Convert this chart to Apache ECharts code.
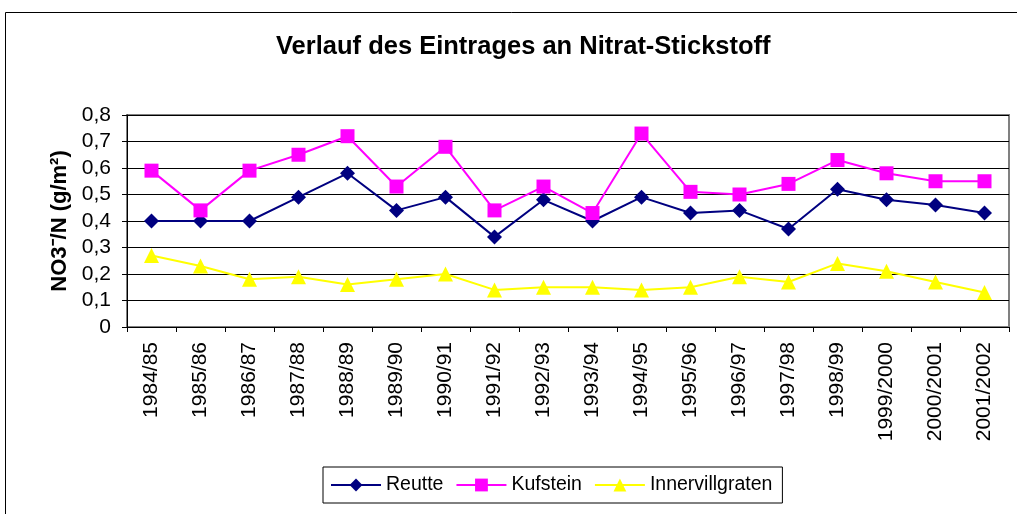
<!DOCTYPE html>
<html>
<head>
<meta charset="utf-8">
<script src="https://cdn.jsdelivr.net/npm/echarts@6/dist/echarts.min.js"></script>
<style>
  html, body { margin: 0; padding: 0; background: #fff; }
  #chart { width: 1017px; height: 514px; }
</style>
</head>
<body>
<div id="chart"></div>
<script>
const years = ['1984/85', '1985/86', '1986/87', '1987/88', '1988/89', '1989/90', '1990/91', '1991/92', '1992/93',
  '1993/94', '1994/95', '1995/96', '1996/97', '1997/98', '1998/99', '1999/2000', '2000/2001', '2001/2002'];
const reutte = [0.40, 0.40, 0.40, 0.49, 0.58, 0.44, 0.49, 0.34, 0.48, 0.40, 0.49, 0.43, 0.44, 0.37, 0.52, 0.48, 0.46, 0.43];
const kufstein = [0.59, 0.44, 0.59, 0.65, 0.72, 0.53, 0.68, 0.44, 0.53, 0.43, 0.73, 0.51, 0.50, 0.54, 0.63, 0.58, 0.55, 0.55];
const innervillgraten = [0.27, 0.23, 0.18, 0.19, 0.16, 0.18, 0.20, 0.14, 0.15, 0.15, 0.14, 0.15, 0.19, 0.17, 0.24, 0.21, 0.17, 0.13];

const chart = echarts.init(document.getElementById('chart'));
const font = 'Liberation Sans, Arial, sans-serif';

function lineSeries(name, data, color, symbol, size) {
  return {
    name: name,
    type: 'line',
    data: data,
    symbol: symbol,
    symbolSize: size,
    lineStyle: { color: color, width: 2 },
    itemStyle: { color: color },
    animation: false
  };
}

chart.setOption({
  backgroundColor: '#fff',
  textStyle: { fontFamily: font },
  title: {
    text: 'Verlauf des Eintrages an Nitrat-Stickstoff',
    left: 271,
    top: 29,
    textStyle: { fontSize: 25.5, fontWeight: 'bold', color: '#000', fontFamily: font }
  },
  graphic: [{
    type: 'rect',
    shape: { x: 5.5, y: 12.5, width: 1030, height: 520 },
    style: { fill: 'none', stroke: '#000', lineWidth: 1 },
    silent: true
  }],
  legend: {
    bottom: 11,
    left: 323,
    itemWidth: 50,
    itemHeight: 16,
    itemGap: 12,
    padding: [8, 10, 8, 7],
    borderColor: '#000',
    borderWidth: 1,
    textStyle: { fontSize: 19.5, color: '#000', fontFamily: font }
  },
  grid: { left: 127, right: 8, top: 115, bottom: 187, show: true, borderColor: '#808080', borderWidth: 2 },
  xAxis: {
    type: 'category',
    data: years,
    boundaryGap: true,
    axisLine: { lineStyle: { color: '#000', width: 1 } },
    axisTick: { show: true, length: 5, lineStyle: { color: '#000' } },
    axisLabel: { rotate: 90, fontSize: 21, color: '#000', margin: 15, interval: 0 }
  },
  yAxis: {
    type: 'value',
    min: 0,
    max: 0.8,
    interval: 0.1,
    name: 'NO3\u207B/N (g/m\u00B2)',
    nameLocation: 'middle',
    nameGap: 55,
    nameTextStyle: { fontSize: 22, fontWeight: 'bold', color: '#000', fontFamily: font },
    axisLine: { show: true, lineStyle: { color: '#000' } },
    axisTick: { show: true, length: 5, lineStyle: { color: '#000' } },
    axisLabel: {
      fontSize: 21, color: '#000', margin: 16,
      formatter: v => v === 0 ? '0' : v.toFixed(1).replace('.', ',')
    },
    splitLine: { lineStyle: { color: '#000', width: 1 } }
  },
  series: [
    lineSeries('Reutte', reutte, '#000080', 'diamond', 15),
    lineSeries('Kufstein', kufstein, '#FF00FF', 'rect', 14),
    lineSeries('Innervillgraten', innervillgraten, '#FFFF00', 'triangle', 15)
  ]
});
window.addEventListener('resize', () => chart.resize());
</script>
</body>
</html>
